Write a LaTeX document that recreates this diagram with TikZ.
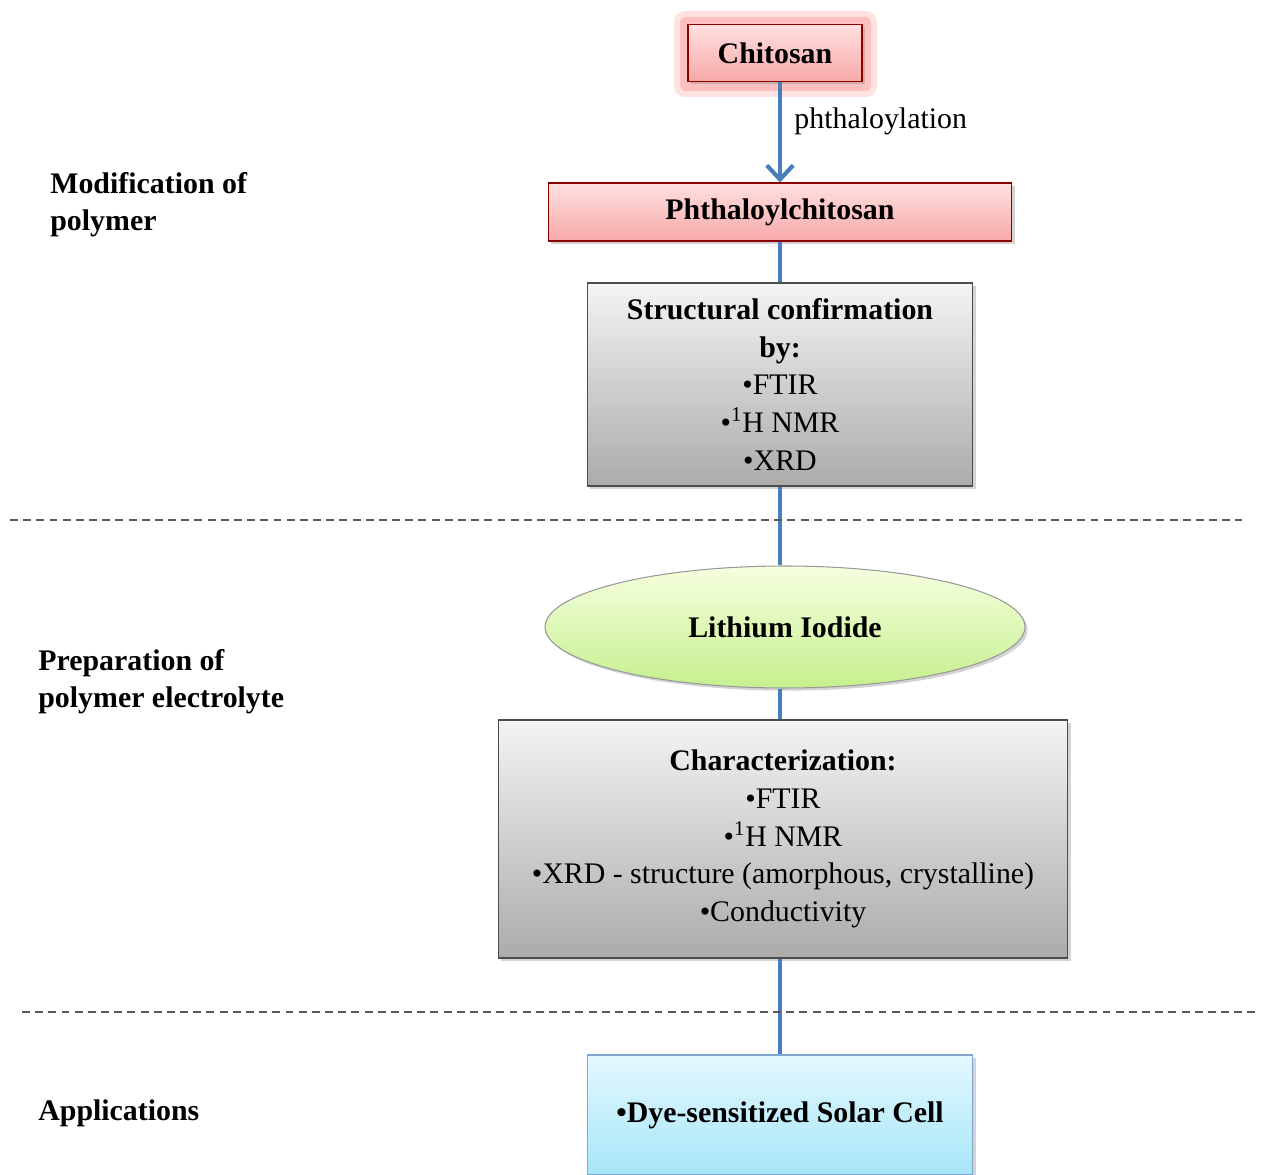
\documentclass[tikz,border=0pt]{standalone}
\usepackage{fontspec}
\setmainfont{Liberation Serif}
\usetikzlibrary{shapes.geometric,shadows,arrows.meta}

\definecolor{linkblue}{HTML}{4A7EBB}
\definecolor{redtop}{HTML}{FFE0E0}
\definecolor{redbot}{HTML}{F7A8A8}
\definecolor{graytop}{HTML}{F4F4F4}
\definecolor{graybot}{HTML}{ABABAB}
\definecolor{greentop}{HTML}{F6FFE0}
\definecolor{greenbot}{HTML}{C6F08E}
\definecolor{bluetop}{HTML}{E4F8FF}
\definecolor{bluebot}{HTML}{A6E6F8}

\begin{document}
\begin{tikzpicture}[x=0.02cm, y=-0.02cm,
	txt/.style={font=\fontsize{17}{21.5}\selectfont, align=center, inner sep=0pt, text=black},
	box/.style={txt, draw=black!70, line width=0.6pt, drop shadow={opacity=0.35, shadow xshift=1.5pt, shadow yshift=-1.5pt}},
	redbox/.style={box, draw=red!55!black, top color=redtop, bottom color=redbot},
	graybox/.style={box, top color=graytop, bottom color=graybot},
	link/.style={linkblue, line width=1.9pt},
	sep/.style={black!65, line width=0.8pt, dash pattern=on 4.5pt off 3pt},
	side/.style={txt, align=left, anchor=north west, font=\fontsize{17}{21}\selectfont\bfseries}]
	\useasboundingbox (0,0) rectangle (1262,1175); % weisser Rand
	
	% Stufe 1
	\fill[red!45, opacity=0.25, rounded corners=6pt] (674,11) rectangle (877,97); % Schein um Chitosan
	\fill[red!55, opacity=0.3, rounded corners=3pt] (680,17) rectangle (871,91);
	\node[redbox, minimum width=3.48cm, minimum height=1.14cm] (chit) at (775,53) {\bfseries Chitosan};
	\node[redbox, minimum width=9.28cm, minimum height=1.16cm] (phth) at (780,212) {\bfseries Phthaloylchitosan};
	\node[graybox, minimum width=7.72cm, minimum height=4.06cm] (conf) at (780,384.5)
		{\bfseries Structural confirmation\\ \bfseries by:\\ \textbullet FTIR\\ \textbullet\textsuperscript{1}H NMR\\ \textbullet XRD};
	
	% Stufe 2
	\node[box, ellipse, draw=black!40, top color=greentop, bottom color=greenbot, minimum width=9.6cm, minimum height=2.44cm] (lii) at (785,627) {\bfseries Lithium Iodide};
	\node[graybox, minimum width=11.4cm, minimum height=4.76cm] (char) at (783,839)
		{\bfseries Characterization:\\ \textbullet FTIR\\ \textbullet\textsuperscript{1}H NMR\\ \textbullet XRD - structure (amorphous, crystalline)\\ \textbullet Conductivity};
	
	% Stufe 3
	\node[box, draw=linkblue!70, top color=bluetop, bottom color=bluebot, minimum width=7.72cm, minimum height=2.4cm] (dssc) at (780,1115) {\bfseries\textbullet Dye-sensitized Solar Cell};
	
	% Verbindungen
	\draw[link, line width=2.4pt, -{Straight Barb[length=8pt, width=15pt]}] (chit.south -| 780,0) -- node[txt, anchor=west, xshift=7pt, yshift=6pt] (lbl) {phthaloylation} (phth.north);
	\draw[link] (phth) -- (conf);
	\draw[link] (conf.south) -- (conf.south |- lii.north);
	\draw[link] (lii.south -| conf.south) -- (char.north -| conf.south);
	\draw[link] (char.south -| conf.south) -- (dssc.north);
	
	% Trennlinien
	\draw[sep] (10,520) -- (1242,520);
	\draw[sep] (22,1012) -- (1255,1012);
	
	% Beschriftung links
	\node[side] (mod) at (50,172) {Modification of\\polymer};
	\node[side] (prep) at (38,649) {Preparation of\\polymer electrolyte};
	\node[side] (app) at (38,1099) {Applications};
	
	%\draw[help lines, step=100] (0,0) grid (1262,1175);
\end{tikzpicture}
\end{document}
